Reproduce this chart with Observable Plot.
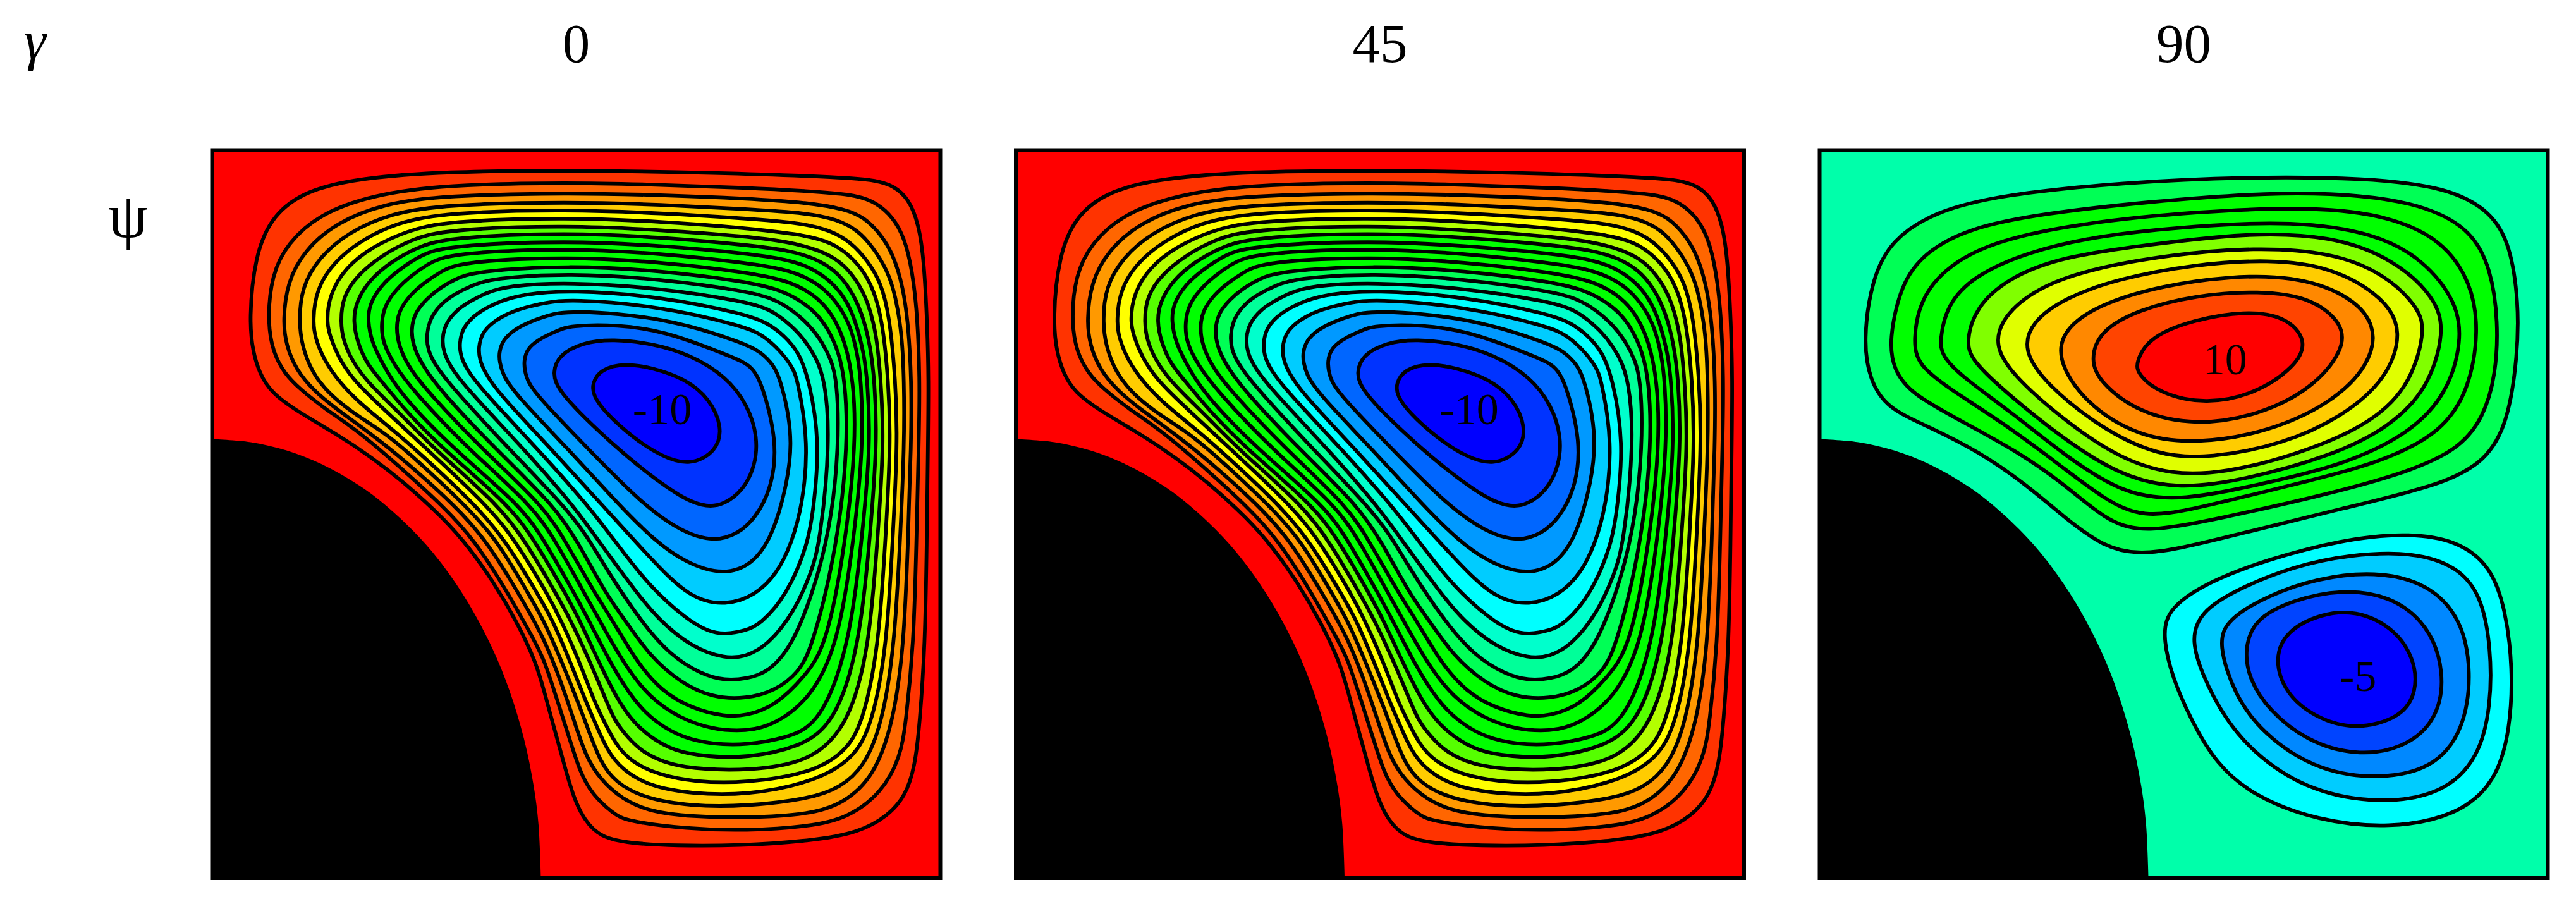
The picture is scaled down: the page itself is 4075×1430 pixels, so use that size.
<!DOCTYPE html>
<html><head><meta charset="utf-8">
<script src="https://cdn.jsdelivr.net/npm/d3@7"></script>
<script src="https://cdn.jsdelivr.net/npm/@observablehq/plot@0.6"></script>
<style>html,body{margin:0;padding:0;background:#fff;overflow:hidden}svg{display:block}</style>
</head><body><div id="chart"></div>
<script>
const gammas = ["0","45","90"];
const xDomain = [39,3050];
const yDomain = [3053.5,44.5];
const backgrounds = [["0","#ff0000"],["45","#ff0000"],["90","#00ffaa"]];
const bodyEdge = [[39,1240],[200,1253],[350,1288],[500,1347],[650,1433],[760,1516],[900,1649],[1000,1769],[1100,1918],[1200,2107],[1270,2280],[1330,2479],[1370,2674],[1390,2834],[1400,3053]];

const c01=[[192,750],[215,480],[290,310],[430,210],[650,160],[1000,133],[1515,128],[2115,137],[2665,157],[2787,170],[2857,192],[2918,244],[2961,349],[2983,505],[2996,767],[3002,993],[2999,1254],[2994,1672],[2987,2090],[2965,2415],[2945,2595],[2905,2715],[2835,2795],[2715,2865],[2515,2900],[2215,2920],[1955,2920],[1765,2910],[1645,2885],[1577,2813],[1533,2718],[1498,2596],[1455,2439],[1411,2278],[1380,2165],[1300,1995],[1200,1825],[1100,1685],[1000,1570],[836,1420],[700,1315],[550,1215],[400,1130],[280,1045],[235,965],[208,880]];
const c02=[[268,750],[285,560],[350,430],[480,310],[700,230],[1000,188],[1515,178],[1900,188],[2247,200],[2508,214],[2683,227],[2770,253],[2839,305],[2892,383],[2926,497],[2953,680],[2966,993],[2961,1254],[2951,1672],[2940,2090],[2907,2415],[2885,2555],[2805,2705],[2665,2805],[2515,2840],[2247,2858],[2000,2850],[1751,2818],[1698,2787],[1611,2709],[1559,2613],[1516,2474],[1463,2308],[1411,2147],[1370,2070],[1267,1881],[1120,1650],[992,1515],[836,1372],[650,1210],[500,1110],[400,1030],[340,970],[290,880]];
const c03=[[332,750],[350,590],[420,460],[550,345],[750,265],[1000,232],[1515,221],[1900,230],[2247,244],[2508,262],[2656,288],[2735,322],[2804,392],[2857,479],[2896,610],[2918,767],[2931,993],[2930,1254],[2916,1672],[2900,2090],[2855,2415],[2775,2635],[2650,2745],[2515,2790],[2247,2805],[2021,2800],[1847,2779],[1733,2726],[1646,2648],[1585,2552],[1542,2422],[1481,2239],[1411,2060],[1309,1881],[1175,1660],[1045,1515],[836,1328],[700,1220],[560,1120],[460,1040],[385,950],[345,850]];
const c04=[[398,750],[410,610],[480,490],[600,385],[780,305],[1000,270],[1515,258],[1900,270],[2247,288],[2508,305],[2622,331],[2709,375],[2770,444],[2831,540],[2865,645],[2892,810],[2900,993],[2902,1254],[2883,1672],[2861,2090],[2810,2415],[2735,2595],[2635,2680],[2515,2725],[2247,2757],[2021,2757],[1820,2722],[1707,2657],[1646,2578],[1594,2439],[1555,2334],[1489,2169],[1410,1986],[1348,1881],[1220,1660],[1090,1515],[836,1280],[740,1205],[620,1130],[520,1050],[450,960],[410,850]];
const c05=[[455,750],[470,620],[540,510],[650,420],[800,345],[1000,302],[1515,290],[1900,305],[2247,327],[2465,344],[2595,375],[2683,427],[2752,505],[2804,592],[2839,723],[2865,993],[2874,1254],[2852,1672],[2829,2090],[2770,2415],[2690,2565],[2515,2660],[2247,2711],[2021,2705],[1847,2674],[1733,2604],[1672,2526],[1620,2404],[1585,2326],[1524,2169],[1447,1986],[1386,1881],[1260,1670],[1135,1515],[836,1241],[760,1180],[650,1090],[570,1010],[500,910],[465,820]];
const c06=[[512,750],[525,640],[590,530],[700,445],[840,380],[1000,338],[1515,322],[1900,340],[2247,366],[2465,392],[2578,418],[2656,462],[2726,532],[2778,627],[2813,767],[2835,993],[2846,1254],[2822,1672],[2796,2090],[2730,2415],[2655,2535],[2515,2620],[2247,2661],[2038,2657],[1881,2626],[1768,2570],[1707,2500],[1659,2404],[1620,2326],[1559,2160],[1481,1986],[1427,1881],[1300,1670],[1182,1515],[836,1197],[700,1070],[620,990],[560,900],[525,810]];
const c07=[[570,750],[580,650],[640,560],[740,480],[860,415],[1000,372],[1515,355],[1900,375],[2247,401],[2421,423],[2552,458],[2639,505],[2700,575],[2752,671],[2787,810],[2804,993],[2818,1254],[2789,1672],[2757,2090],[2675,2415],[2515,2577],[2247,2609],[2073,2604],[1934,2587],[1820,2535],[1759,2474],[1703,2404],[1664,2308],[1598,2151],[1521,1986],[1463,1881],[1340,1670],[1228,1515],[958,1280],[836,1154],[760,1080],[680,1000],[620,920],[580,830]];
const c08=[[622,750],[635,670],[690,580],[780,505],[880,450],[1000,405],[1515,385],[1900,405],[2247,436],[2421,458],[2534,492],[2613,540],[2674,610],[2726,714],[2761,854],[2778,993],[2790,1254],[2757,1672],[2716,2090],[2615,2415],[2465,2515],[2247,2557],[2090,2552],[1951,2530],[1847,2469],[1777,2404],[1716,2317],[1646,2178],[1558,1986],[1502,1881],[1380,1670],[1272,1515],[993,1280],[836,1119],[740,1000],[680,930],[640,840]];
const c09=[[682,750],[690,680],[740,600],[810,540],[900,480],[1000,440],[1515,418],[1900,440],[2247,471],[2421,497],[2517,531],[2595,584],[2656,654],[2700,749],[2735,889],[2748,993],[2763,1254],[2724,1672],[2674,2090],[2555,2415],[2415,2475],[2247,2504],[2108,2500],[1986,2474],[1877,2413],[1786,2326],[1690,2173],[1596,1986],[1539,1881],[1420,1670],[1318,1515],[1036,1280],[810,1045],[740,920],[700,840]];
const c10=[[738,770],[750,690],[800,620],[860,565],[930,515],[1020,470],[1515,450],[1900,472],[2247,510],[2404,536],[2500,571],[2578,623],[2639,697],[2683,784],[2709,897],[2722,993],[2733,1254],[2691,1672],[2626,2090],[2515,2310],[2365,2420],[2247,2448],[2108,2439],[1977,2395],[1847,2308],[1742,2169],[1640,1986],[1581,1881],[1465,1670],[1365,1515],[1097,1280],[875,1045],[790,930],[745,840]];
const c11=[[800,780],[810,710],[860,640],[920,590],[980,550],[1060,505],[1515,485],[1900,507],[2247,549],[2395,579],[2482,614],[2561,671],[2613,741],[2656,836],[2691,993],[2702,1254],[2658,1672],[2580,2090],[2495,2215],[2365,2345],[2247,2382],[2160,2387],[2021,2352],[1899,2282],[1794,2160],[1694,1986],[1624,1881],[1505,1670],[1410,1515],[1154,1280],[932,1045],[850,940],[810,850]];
const c12=[[862,790],[875,720],[925,660],[980,615],[1040,580],[1120,545],[1515,520],[1900,543],[2247,588],[2378,619],[2465,662],[2534,714],[2587,784],[2630,880],[2656,993],[2669,1254],[2626,1672],[2524,2090],[2465,2205],[2365,2280],[2247,2313],[2108,2308],[1977,2247],[1847,2134],[1746,1986],[1668,1881],[1555,1670],[1455,1515],[1211,1280],[988,1045],[905,930],[870,850]];
const c13=[[925,810],[940,740],[985,680],[1040,640],[1110,605],[1190,575],[1515,552],[1900,578],[2247,627],[2360,658],[2439,706],[2508,767],[2561,836],[2600,915],[2622,993],[2633,1254],[2591,1672],[2449,2090],[2335,2205],[2247,2230],[2160,2237],[2064,2212],[1934,2134],[1807,1986],[1672,1781],[1590,1640],[1495,1515],[1267,1280],[1049,1045],[965,940],[930,870]];
const c14=[[990,820],[1005,760],[1050,705],[1105,670],[1170,635],[1260,605],[1515,590],[1900,615],[2247,671],[2343,701],[2421,758],[2482,819],[2534,897],[2574,993],[2595,1254],[2552,1672],[2515,1795],[2445,1955],[2338,2090],[2247,2138],[2160,2147],[2021,2099],[1886,1986],[1795,1875],[1655,1685],[1535,1515],[1328,1280],[1106,1045],[1030,950],[995,880]];
const c15=[[1062,840],[1075,780],[1120,730],[1175,695],[1240,665],[1330,640],[1515,622],[1900,650],[2247,723],[2334,758],[2404,810],[2465,880],[2508,993],[2552,1254],[2527,1515],[2504,1672],[2415,1885],[2305,2005],[2247,2030],[2160,2047],[2090,2034],[2003,1986],[1845,1845],[1715,1675],[1595,1515],[1385,1280],[1163,1045],[1090,950],[1065,890]];
const c16=[[1140,860],[1155,800],[1200,755],[1260,720],[1330,695],[1420,675],[1515,660],[1900,690],[2247,775],[2317,810],[2386,871],[2439,941],[2460,993],[2506,1254],[2480,1515],[2434,1672],[2375,1795],[2285,1885],[2165,1927],[2015,1900],[1845,1725],[1655,1515],[1441,1280],[1219,1045],[1165,960],[1145,910]];
const c17=[[1225,885],[1240,830],[1290,785],[1350,755],[1420,730],[1515,705],[1915,735],[2247,845],[2308,880],[2360,932],[2391,993],[2449,1254],[2395,1515],[2345,1655],[2275,1755],[2155,1803],[1995,1750],[1865,1655],[1725,1515],[1511,1280],[1285,1045],[1240,970],[1228,920]];
const c18=[[1326,915],[1345,860],[1400,820],[1470,790],[1515,770],[1715,765],[1915,795],[2115,870],[2247,923],[2273,950],[2308,993],[2379,1254],[2350,1450],[2285,1565],[2215,1630],[2115,1663],[1985,1625],[1825,1515],[1594,1280],[1367,1045],[1335,980]];
const c19=[[1446,960],[1475,890],[1570,840],[1695,825],[1865,845],[2015,890],[2165,980],[2255,1100],[2295,1230],[2285,1350],[2235,1450],[2155,1510],[2085,1520],[1995,1490],[1865,1400],[1715,1280],[1467,1045]];
const c20=[[1610,1010],[1645,950],[1745,925],[1865,945],[1995,990],[2095,1070],[2150,1190],[2125,1290],[2015,1350],[1895,1310],[1775,1230],[1665,1130],[1615,1060]];
const swirlContours=[c01,c02,c03,c04,c05,c06,c07,c08,c09,c10,c11,c12,c13,c14,c15,c16,c17,c18,c19,c20];
const swirlColors=["#ff3300","#ff6600","#ff9900","#ffcc00","#ffff00","#b3ff00","#55ff00","#00ff00","#00ff00","#00ff00","#00ff00","#00ff55","#00ff99","#00ffcc","#00ffff","#00ccff","#0099ff","#0066ff","#0033ff","#0000ff"];

const u01=[[112,420],[130,290],[170,210],[260,150],[400,115],[650,90],[900,78],[1150,80],[1320,100],[1410,150],[1450,220],[1467,340],[1465,450],[1445,590],[1400,670],[1310,720],[1100,770],[900,820],[760,855],[680,865],[610,850],[530,790],[450,720],[350,650],[250,600],[160,560],[125,500]];
const u02=[[165,420],[190,300],[240,235],[330,185],[480,155],[700,130],[950,110],[1150,115],[1280,140],[1370,190],[1410,270],[1425,380],[1420,490],[1395,580],[1340,650],[1220,700],[1050,745],[850,790],[700,820],[620,800],[530,720],[430,650],[320,590],[210,530],[175,480]];
const u03=[[215,420],[230,330],[290,260],[390,210],[560,175],[800,150],[1050,140],[1200,160],[1310,210],[1370,300],[1385,400],[1365,520],[1310,610],[1180,675],[1000,720],[800,770],[690,790],[610,750],[520,680],[400,590],[290,520],[225,470]];
const u04=[[270,420],[285,345],[340,285],[450,235],[600,200],[800,180],[1000,170],[1170,195],[1270,250],[1340,340],[1350,420],[1320,530],[1240,615],[1100,680],[950,715],[770,755],[650,740],[530,660],[420,570],[310,490],[275,450]];
const u05=[[325,420],[345,350],[410,290],[520,245],[700,220],[900,195],[1080,200],[1210,250],[1295,330],[1315,400],[1280,520],[1200,600],[1080,660],[900,710],[760,730],[640,700],[520,620],[410,530],[335,460]];
const u06=[[383,430],[400,370],[470,310],[580,270],[750,240],[920,225],[1080,235],[1190,280],[1260,350],[1275,400],[1240,520],[1150,600],[1000,660],[860,695],[750,700],[640,665],[520,580],[420,490]];
const u07=[[442,440],[460,380],[530,330],[640,290],[800,260],[950,250],[1080,265],[1190,330],[1228,400],[1195,500],[1100,580],[980,635],[830,665],[720,660],[600,600],[490,510]];
const u08=[[510,455],[530,390],[610,340],[730,305],[870,285],[1000,285],[1110,320],[1175,385],[1160,470],[1080,550],[950,610],[800,635],[680,620],[570,550]];
const u09=[[582,460],[600,400],[680,355],[800,325],[930,315],[1040,330],[1105,385],[1105,440],[1040,520],[930,575],[800,597],[680,570],[600,505]];
const u10=[[675,465],[705,410],[800,375],[900,358],[985,368],[1032,420],[1005,475],[920,532],[820,552],[725,530],[680,490]];
const k01=[[730,1030],[745,975],[830,920],[950,875],[1100,835],[1230,820],[1340,835],[1410,890],[1440,980],[1455,1100],[1450,1230],[1420,1340],[1340,1410],[1200,1437],[1050,1420],[920,1370],[840,1300],[790,1210],[750,1120]];
const k02=[[790,1040],[810,985],[880,940],[1000,890],[1120,865],[1250,860],[1340,890],[1390,950],[1410,1060],[1410,1180],[1385,1290],[1310,1365],[1180,1385],[1040,1360],[930,1290],[860,1210],[810,1110]];
const k03=[[845,1050],[865,1000],[950,950],[1050,915],[1170,900],[1280,925],[1350,1000],[1370,1110],[1355,1230],[1290,1315],[1160,1335],[1040,1310],[940,1240],[880,1160]];
const k04=[[900,1065],[920,1000],[1000,960],[1100,938],[1200,950],[1280,1010],[1315,1110],[1300,1210],[1230,1270],[1130,1285],[1030,1255],[950,1190],[910,1125]];
const k05=[[962,1085],[985,1025],[1060,988],[1130,982],[1205,1015],[1252,1080],[1257,1152],[1225,1205],[1130,1232],[1045,1205],[985,1155]];
const cellContours=[u01,u02,u03,u04,u05,u06,u07,u08,u09,u10,k01,k02,k03,k04,k05];
const cellColors=["#00ff55","#00ff00","#00ff00","#00ff00","#80ff00","#e0ff00","#ffcc00","#ff8800","#ff4400","#ff0000","#00ffff","#00ccff","#0088ff","#0044ff","#0000ff"];

const valueLabels=[["0","-10",1900,1120],["45","-10",1913,1120],["90","10",1715,912],["90","-5",2265,2221]];
const gammaLabel=[["γ",-693,-405]];
const psiLabel=[["ψ",-308,319]];

const rows=(panel,contours,colors,fx=p=>p[0],fy=p=>p[1])=>contours.flatMap((c,i)=>c.map(p=>({panel,id:panel+"-"+i,color:colors[i],x:fx(p),y:fy(p)})));
const contourRows=[
  ...rows("0",swirlContours,swirlColors),
  ...rows("45",swirlContours,swirlColors),
  ...rows("90",cellContours,cellColors,p=>2*p[0]-5,p=>1.983*p[1])
];
const bodyRows=gammas.flatMap(panel=>bodyEdge.map(([x,y])=>({panel,x,y})));
const serif="Liberation Serif";

const chart=Plot.plot({
  width:4075,height:1430,
  marginLeft:335,marginRight:45,marginTop:237,marginBottom:41.5,
  style:{background:"white",fontFamily:serif},
  fx:{domain:gammas,paddingInner:0.094,paddingOuter:0,round:false,label:null},
  x:{domain:xDomain,axis:null},
  y:{domain:yDomain,axis:null},
  marks:[
    Plot.rect(backgrounds,{fx:d=>d[0],x1:()=>xDomain[0],x2:()=>xDomain[1],y1:()=>yDomain[0],y2:()=>yDomain[1],fill:d=>d[1]}),
    Plot.line(contourRows,{fx:"panel",x:"x",y:"y",z:"id",fill:"color",stroke:"black",strokeWidth:5.8,curve:"basis-closed"}),
    Plot.areaY(bodyRows,{fx:"panel",x:"x",y1:()=>yDomain[0],y2:"y",z:"panel",fill:"black",curve:"catmull-rom"}),
    Plot.frame({stroke:"black",strokeWidth:6}),
    Plot.text(valueLabels,{fx:d=>d[0],text:d=>d[1],x:d=>d[2],y:d=>d[3],fontSize:70,fontFamily:serif,fill:"black"}),
    Plot.text(gammaLabel,{fx:()=>"0",text:d=>d[0],x:d=>d[1],y:d=>d[2],fontSize:87,fontFamily:serif,fontStyle:"italic",fill:"black"}),
    Plot.text(psiLabel,{fx:()=>"0",text:d=>d[0],x:d=>d[1],y:d=>d[2],fontSize:100,fontFamily:serif,fill:"black"}),
    Plot.axisFx({anchor:"top",label:null,tickSize:0,tickPadding:140,fontSize:87,fontFamily:serif,fill:"black"})
  ]
});
document.getElementById("chart").appendChild(chart);
</script></body></html>
